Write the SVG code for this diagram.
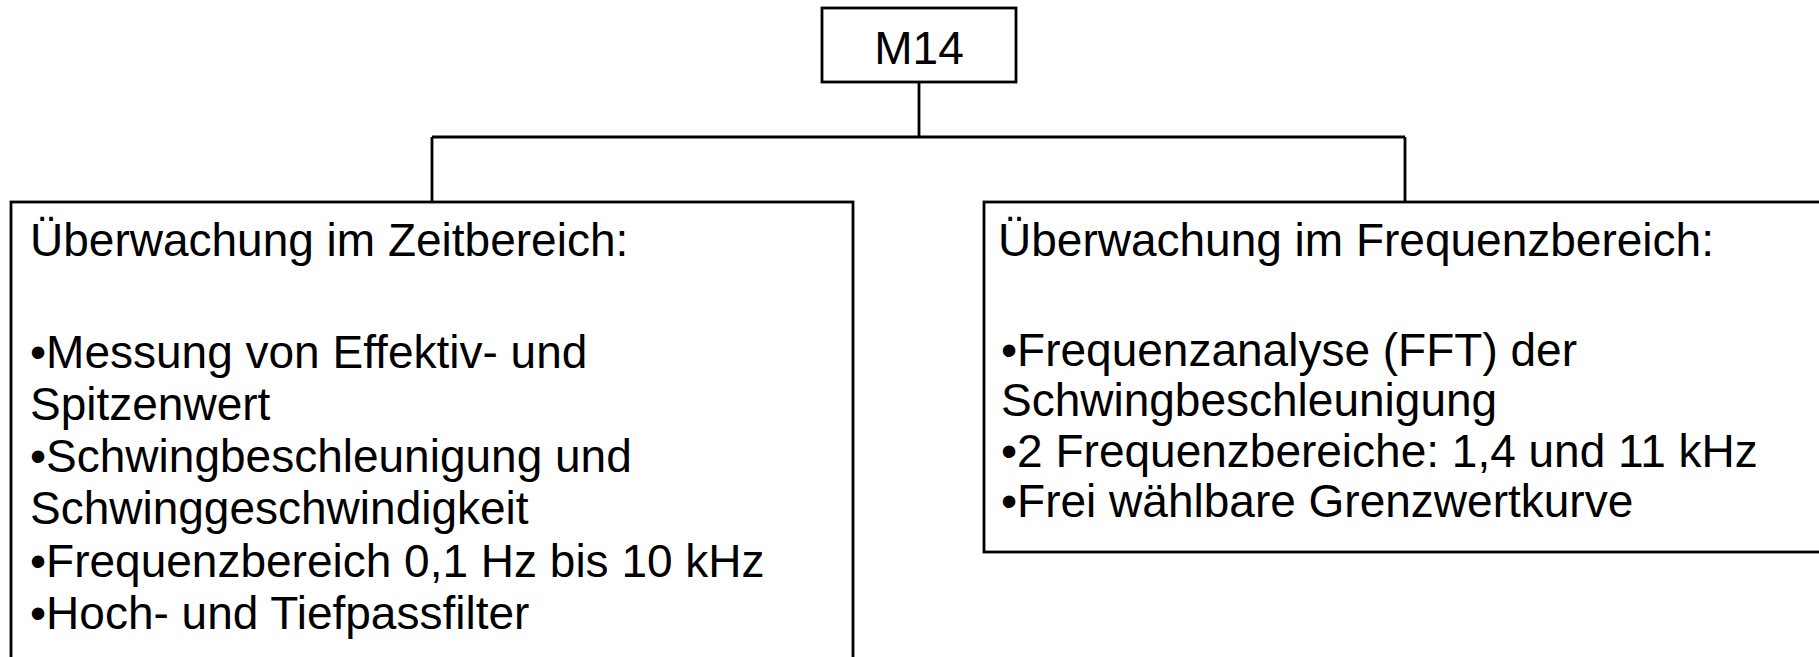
<svg xmlns="http://www.w3.org/2000/svg" width="1819" height="657" viewBox="0 0 1819 657">
<style>
.box{fill:#fff;stroke:#000;stroke-width:2.8}
.ln{fill:none;stroke:#000;stroke-width:2.8}
text{font-family:"Liberation Sans",Arial,sans-serif;font-size:46px;fill:#000}
</style>
<rect width="1819" height="657" fill="#fff"/>
<g id="connectors">
<path class="ln" d="M919 82V137M432 137H1405M432 137V202M1405 137V202"/>
</g>
<g id="node-m14">
<rect class="box" x="822" y="8" width="194" height="74"/>
<text x="919" y="64" text-anchor="middle">M14</text>
</g>
<g id="node-zeit">
<rect class="box" x="11" y="202" width="842" height="480"/>
<text x="30" y="256">Überwachung im Zeitbereich:</text>
<text x="30" y="368">•Messung von Effektiv- und</text>
<text x="30" y="420">Spitzenwert</text>
<text x="30" y="472">•Schwingbeschleunigung und</text>
<text x="30" y="524">Schwinggeschwindigkeit</text>
<text x="30" y="577">•Frequenzbereich 0,1 Hz bis 10 kHz</text>
<text x="30" y="629">•Hoch- und Tiefpassfilter</text>
</g>
<g id="node-frequenz">
<rect class="box" x="984" y="202" width="860" height="350"/>
<text x="998" y="256">Überwachung im Frequenzbereich:</text>
<text x="1001" y="366">•Frequenzanalyse (FFT) der</text>
<text x="1001" y="416">Schwingbeschleunigung</text>
<text x="1001" y="467">•2 Frequenzbereiche: 1,4 und 11 kHz</text>
<text x="1001" y="517">•Frei wählbare Grenzwertkurve</text>
</g>
</svg>
